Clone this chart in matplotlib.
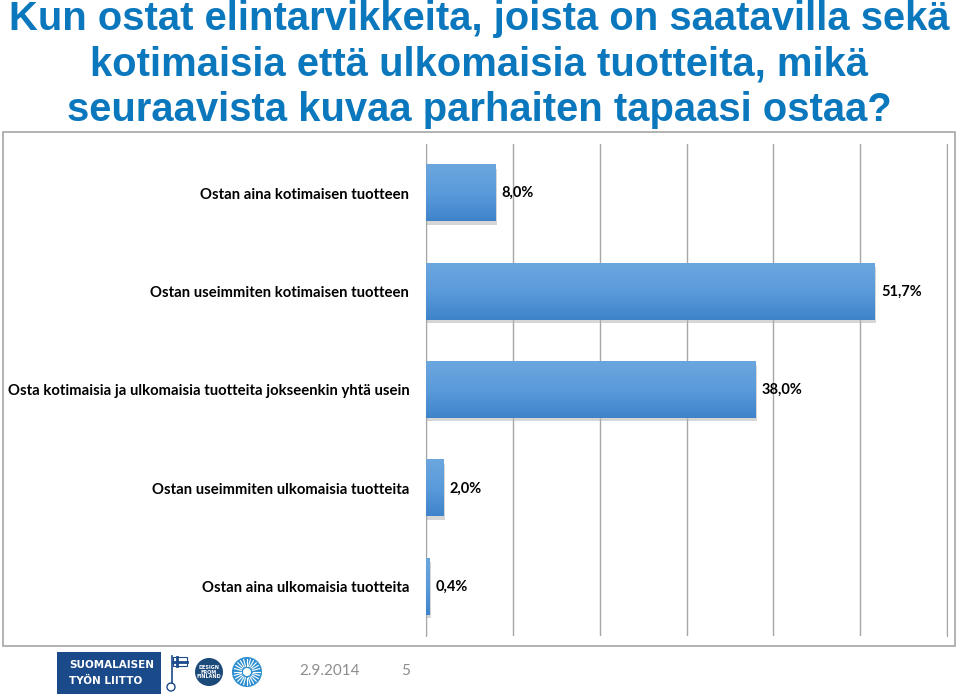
import numpy as np
import matplotlib.pyplot as plt
from matplotlib.patches import Rectangle, Circle
from matplotlib.colors import LinearSegmentedColormap

# Data
categories = ["Ostan aina kotimaisen tuotteen",
              "Ostan useimmiten kotimaisen tuotteen",
              "Osta kotimaisia ja ulkomaisia tuotteita jokseenkin yhtä usein",
              "Ostan useimmiten ulkomaisia tuotteita",
              "Ostan aina ulkomaisia tuotteita"]
values = [8.0, 51.7, 38.0, 2.0, 0.4]
value_labels = ["8,0%", "51,7%", "38,0%", "2,0%", "0,4%"]
title_lines = ["Kun ostat elintarvikkeita, joista on saatavilla sekä",
               "kotimaisia että ulkomaisia tuotteita, mikä",
               "seuraavista kuvaa parhaiten tapaasi ostaa?"]
footer_date = "2.9.2014"
footer_page = "5"

W, H = 960, 696
fig = plt.figure(figsize=(W / 100, H / 100), dpi=100)

# otsikko
title_blue = "#0B77BD"
for i, line in enumerate(title_lines):
    fig.text(479 / W, 1 - (30 + i * 45.5) / H, line, ha="center", va="baseline",
             fontsize=28.8, fontweight="bold", color=title_blue,
             family="Liberation Sans")

# kaavion kehys
fig.patches.append(Rectangle((3 / W, 1 - 646 / H), 952 / W, 514 / H,
                             transform=fig.transFigure, fill=False,
                             edgecolor="#A6A6A6", lw=1.2))

# piirtoalue
x0, x1 = 426, 947
y_top, y_bot = 144, 636
ax = fig.add_axes([x0 / W, 1 - y_bot / H, (x1 - x0) / W, (y_bot - y_top) / H])
n = len(values)
ax.set_xticks(np.arange(0, 61, 10))
ax.xaxis.grid(True, color="#A6A6A6", lw=1)
ax.set_axisbelow(True)
ax.tick_params(axis="both", length=0, labelbottom=False)
for s in ax.spines.values():
    s.set_visible(False)
ax.spines["left"].set_visible(True)
ax.spines["left"].set_color("#A6A6A6")
ax.spines["right"].set_visible(True)
ax.spines["right"].set_color("#A6A6A6")
ax.set_yticks(range(n))
ax.set_yticklabels(categories, fontsize=10.7, fontweight="bold",
                   family="Lato", color="black")
ax.tick_params(axis="y", pad=12)

bh = 0.57
grad = np.linspace(0, 1, 100).reshape(-1, 1)
cmap = LinearSegmentedColormap.from_list("bar", ["#6CA6DE", "#5A9BDB", "#3E83CA"])
for i, v in enumerate(values):
    ax.add_patch(Rectangle((0.15, i - bh / 2 + 0.035), v, bh,
                           facecolor="#B5B5B5", edgecolor="none", alpha=0.55, zorder=2))
    ax.imshow(grad, extent=(0, v, i + bh / 2, i - bh / 2), aspect="auto",
              cmap=cmap, zorder=3, interpolation="bilinear")
    ax.text(v + 0.7, i, value_labels[i], va="center", ha="left", family="Lato",
            fontsize=10.5, fontweight="bold", color="black", zorder=4)
ax.set_xlim(0, 60)
ax.set_ylim(n - 0.5, -0.5)

# alatunniste
fax = fig.add_axes([0, 0, 1, 1], facecolor="none")
fax.set_xlim(0, W)
fax.set_ylim(H, 0)
fax.axis("off")
fax.add_patch(Rectangle((57, 652), 104, 42, facecolor="#1B4A8A", edgecolor="none"))
fax.text(69, 665, "SUOMALAISEN", color="white", fontsize=7.5, fontweight="bold",
         va="center", ha="left")
fax.text(69, 681, "TYÖN LIITTO", color="white", fontsize=7.5, fontweight="bold",
         va="center", ha="left")
fax.plot([172, 172], [656, 683], color="#1B4A8A", lw=1.2)
fax.add_patch(Rectangle((173, 657), 14, 9, facecolor="white", edgecolor="#1B4A8A", lw=0.8))
fax.plot([173, 187], [661.5, 661.5], color="#1B4A8A", lw=2)
fax.plot([177, 177], [657, 666], color="#1B4A8A", lw=2)
fax.add_patch(Circle((171, 687), 4, facecolor="white", edgecolor="#1B4A8A", lw=1))
fax.add_patch(Circle((209, 672), 14, facecolor="#1B4A7A", edgecolor="none"))
fax.text(209, 672, "DESIGN\nFROM\nFINLAND", color="white", fontsize=3.5,
         fontweight="bold", ha="center", va="center", linespacing=0.9)
fax.add_patch(Circle((247, 672), 15, facecolor="#2E8FD0", edgecolor="none"))
ang = np.linspace(0, 2 * np.pi, 24, endpoint=False)
for a in ang:
    fax.plot([247 + 6 * np.cos(a), 247 + 13 * np.cos(a)],
             [672 + 6 * np.sin(a), 672 + 13 * np.sin(a)], color="white", lw=0.8)
fax.add_patch(Circle((247, 672), 4, facecolor="white", edgecolor="none"))
fax.text(330, 671, footer_date, color="#8C8C8C", fontsize=11, ha="center",
         va="center", family="Lato")
fax.text(406, 671, footer_page, color="#8C8C8C", fontsize=11, ha="center",
         va="center", family="Lato")

fig.savefig("out.png", dpi=100)
